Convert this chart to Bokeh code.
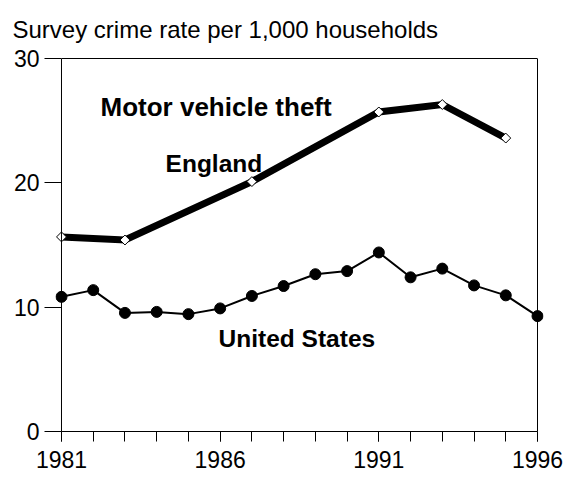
from bokeh.plotting import figure
from bokeh.models import Range1d, LinearAxis, FixedTicker, Label, Span, Title
from bokeh.embed import file_html
from bokeh.resources import INLINE
import math

# ---- data ----
us_years = list(range(1981, 1997))
us_rate = [10.83, 11.37, 9.54, 9.62, 9.44, 9.9, 10.9, 11.7, 12.65, 12.9,
           14.4, 12.4, 13.1, 11.75, 10.95, 9.28]
eng_years = [1981, 1983, 1987, 1991, 1993, 1995]
eng_rate = [15.65, 15.4, 20.1, 25.7, 26.3, 23.6]
x_major = [1981, 1986, 1991, 1996]
x_minor = list(range(1981, 1997))
y_major = [0, 10, 20, 30]

FONT = "Liberation Sans"

p = figure(width=572, height=477, output_backend="svg", toolbar_location=None,
           x_range=Range1d(1980.811, 1996.189), y_range=Range1d(0, 30),
           x_axis_location=None, y_axis_location=None,
           min_border_left=55, min_border_right=29, min_border_top=58,
           min_border_bottom=46)
p.outline_line_color = None
p.grid.visible = False
p.background_fill_color = "white"
p.border_fill_color = "white"

# top frame line (closest to the frame)
ta = LinearAxis(ticker=FixedTicker(ticks=[]), bounds=(1981, 1996))
ta.major_tick_out = 0
ta.major_tick_in = 0
ta.minor_tick_out = 0
ta.minor_tick_in = 0
ta.major_label_text_font_size = "0px"
ta.axis_line_color = "black"
p.add_layout(ta, "above")

# title
p.add_layout(Title(text="Survey crime rate per 1,000 households", align="left",
                   offset=-43, standoff=28, vertical_align="top", text_font=FONT,
                   text_font_size="24px", text_font_style="normal",
                   text_color="black"), "above")

# bottom axis
xa = LinearAxis(ticker=FixedTicker(ticks=x_major, minor_ticks=x_minor),
                bounds=(1981, 1996))
xa.major_tick_in = 0
xa.major_tick_out = 10
xa.minor_tick_in = 0
xa.minor_tick_out = 10
xa.major_label_standoff = 9
xa.major_label_text_font = FONT
xa.major_label_text_font_size = "23px"
xa.major_label_text_color = "black"
xa.axis_line_color = "black"
xa.major_tick_line_color = "black"
xa.minor_tick_line_color = "black"
p.add_layout(xa, "below")

# left axis (ticks reach the 1981 line)
ya = LinearAxis(ticker=FixedTicker(ticks=y_major))
ya.major_tick_in = 6
ya.major_tick_out = 11
ya.minor_tick_out = 0
ya.minor_tick_in = 0
ya.major_label_standoff = 5
ya.major_label_text_font = FONT
ya.major_label_text_font_size = "23px"
ya.major_label_text_color = "black"
ya.axis_line_color = None
ya.major_tick_line_color = "black"
p.add_layout(ya, "left")

# vertical frame lines at first and last year
p.add_layout(Span(location=x_major[0], dimension="height", line_color="black", line_width=1))
p.add_layout(Span(location=x_major[-1], dimension="height", line_color="black", line_width=1))

# series
p.line(eng_years, eng_rate, line_color="black", line_width=7, line_join="miter")
p.scatter(eng_years, eng_rate, marker="square", size=7, angle=math.pi / 4,
          fill_color="white", line_color="black", line_width=1)

p.line(us_years, us_rate, line_color="black", line_width=2)
p.scatter(us_years, us_rate, marker="circle", size=11,
          fill_color="black", line_color="black")

# texts
p.add_layout(Label(x=1982.23, y=26.09, text="Motor vehicle theft",
                   text_font=FONT, text_font_size="26px", text_font_style="bold",
                   text_color="black", text_baseline="alphabetic"))
p.add_layout(Label(x=1984.28, y=21.54, text="England",
                   text_font=FONT, text_font_size="24.5px", text_font_style="bold",
                   text_color="black", text_baseline="alphabetic"))
p.add_layout(Label(x=1985.95, y=7.51, text="United States",
                   text_font=FONT, text_font_size="24.5px", text_font_style="bold",
                   text_color="black", text_baseline="alphabetic"))

open("out.html", "w").write(file_html(p, INLINE))
